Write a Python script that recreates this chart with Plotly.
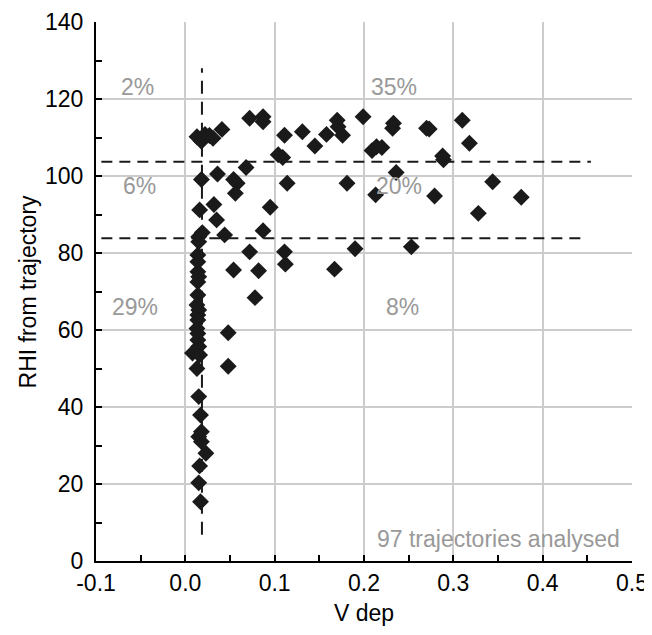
import plotly.graph_objects as go

# --- data ---
v_dep = [
    0.013, 0.018, 0.022, 0.027, 0.031,
    0.018, 0.016, 0.019, 0.015, 0.015, 0.014, 0.014, 0.014, 0.015, 0.014,
    0.014, 0.013, 0.015, 0.014, 0.014, 0.013, 0.014, 0.014, 0.015, 0.008,
    0.016, 0.013, 0.015, 0.017, 0.018, 0.015, 0.018, 0.023, 0.016, 0.015,
    0.017,
    0.041, 0.072, 0.087, 0.087, 0.068, 0.036, 0.054, 0.058, 0.056, 0.032,
    0.035, 0.044, 0.087, 0.111, 0.104, 0.109, 0.131, 0.145, 0.158, 0.170,
    0.171, 0.176, 0.199, 0.233, 0.232, 0.209, 0.214, 0.220, 0.114, 0.181,
    0.236, 0.213, 0.270, 0.273, 0.310, 0.318, 0.288, 0.289, 0.344, 0.279,
    0.376, 0.328, 0.253, 0.095, 0.072, 0.111, 0.112, 0.190, 0.082, 0.167,
    0.078, 0.054, 0.048, 0.048,
]
rhi = [
    110.2, 109.0, 110.8, 110.5, 109.8,
    99.1, 91.2, 85.3, 84.2, 82.9, 79.5, 77.7, 75.1, 73.8, 72.5,
    69.1, 66.5, 65.2, 63.9, 62.6, 60.4, 59.1, 57.4, 55.7, 54.0,
    53.5, 50.0, 42.7, 37.9, 33.6, 32.3, 31.0, 28.0, 24.7, 20.3,
    15.4,
    112.1, 115.0, 115.4, 114.1, 102.2, 100.5, 99.1, 98.1, 95.5, 92.6,
    88.6, 84.7, 85.8, 110.6, 105.5, 104.8, 111.5, 107.8, 110.8, 114.5,
    112.8, 110.6, 115.4, 113.7, 112.4, 106.6, 107.6, 107.4, 98.1, 98.1,
    100.9, 95.1, 112.4, 112.2, 114.5, 108.5, 105.2, 104.2, 98.5, 94.8,
    94.5, 90.3, 81.6, 91.9, 80.3, 80.3, 77.1, 81.1, 75.4, 75.8,
    68.4, 75.6, 59.3, 50.6,
]

# threshold (dashed) lines
v_threshold = 0.0186
v_line_rhi = [6.8, 128.0]
rhi_upper = 103.7
rhi_upper_v = [-0.094, 0.454]
rhi_lower = 83.8
rhi_lower_v = [-0.094, 0.445]

# quadrant labels
pct_labels = ["2%", "35%", "6%", "20%", "29%", "8%"]
pct_v = [-0.053, 0.234, -0.051, 0.239, -0.056, 0.243]
pct_rhi = [123.0, 123.0, 97.4, 97.4, 66.0, 66.0]
note_text = "97 trajectories analysed"

x_ticks = [-0.1, 0.0, 0.1, 0.2, 0.3, 0.4, 0.5]
x_tick_labels = ["-0.1", "0.0", "0.1", "0.2", "0.3", "0.4", "0.5"]
x_grid = [0.0, 0.1, 0.2, 0.3, 0.4]
y_ticks = [0, 20, 40, 60, 80, 100, 120, 140]
y_grid = [20, 40, 60, 80, 100, 120]
x_title = "V dep"
y_title = "RHI from trajectory"

FONT = "Liberation Sans, Arial, sans-serif"
FS = 23
DASH = "11px,7px"
INK = "#1a1a1a"

fig = go.Figure()
fig.add_trace(go.Scatter(x=[v_threshold, v_threshold], y=v_line_rhi, mode="lines",
                         line=dict(color=INK, width=2, dash="13px,8px"), hoverinfo="skip"))
fig.add_trace(go.Scatter(x=rhi_upper_v, y=[rhi_upper, rhi_upper], mode="lines",
                         line=dict(color=INK, width=2, dash=DASH), hoverinfo="skip"))
fig.add_trace(go.Scatter(x=rhi_lower_v, y=[rhi_lower, rhi_lower], mode="lines",
                         line=dict(color=INK, width=2, dash=DASH), hoverinfo="skip"))
fig.add_trace(go.Scatter(x=v_dep, y=rhi, mode="markers",
                         marker=dict(symbol="diamond", size=13, color=INK, line=dict(width=0))))
# invisible trace to carry the tick/label axes
fig.add_trace(go.Scatter(x=[None], y=[None], xaxis="x2", yaxis="y2", mode="markers",
                         hoverinfo="skip"))

for t, xv, yv in zip(pct_labels, pct_v, pct_rhi):
    fig.add_annotation(x=xv, y=yv, text=t, showarrow=False,
                       font=dict(family=FONT, size=FS, color="#999999"))
fig.add_annotation(x=0.489, y=5.6, text=note_text, showarrow=False, xanchor="right",
                   font=dict(family=FONT, size=FS, color="#999999"))

# axis titles
fig.add_annotation(xref="paper", yref="paper", x=0.5, y=-0.097, yanchor="middle",
                   text=x_title, showarrow=False, font=dict(family=FONT, size=FS, color="black"))
fig.add_annotation(xref="paper", yref="paper", x=-0.127, y=0.5, xanchor="center",
                   text=y_title, textangle=-90, showarrow=False,
                   font=dict(family=FONT, size=FS, color="black"))

common_tick = dict(ticks="inside", ticklen=6, tickwidth=1.5, tickcolor="black",
                   tickfont=dict(family=FONT, size=FS, color="black"),
                   ticklabeloverflow="allow")

# page body has an 8px margin; size the figure so the plot area lands where the reference's does
fig.update_layout(
    width=644, height=619,
    margin=dict(l=88, r=20, t=14, b=66),
    paper_bgcolor="white", plot_bgcolor="white",
    showlegend=False,
    font=dict(family=FONT, size=FS, color="black"),
    xaxis=dict(range=[-0.1, 0.5], tickvals=x_grid, showticklabels=False, ticks="",
               showgrid=True, gridcolor="#cccccc", gridwidth=2, zeroline=False,
               showline=False, automargin=False),
    yaxis=dict(range=[0, 140], tickvals=y_grid, showticklabels=False, ticks="",
               showgrid=True, gridcolor="#cccccc", gridwidth=2, zeroline=False,
               showline=False, automargin=False),
    xaxis2=dict(range=[-0.1, 0.5], overlaying="x", anchor="y2", side="bottom",
                tickvals=x_ticks, ticktext=x_tick_labels, showgrid=False, zeroline=False,
                showline=True, linecolor="black", linewidth=2, automargin=False,
                minor=dict(dtick=0.05, ticks="inside", ticklen=6, tickwidth=1.5,
                           tickcolor="black", showgrid=False),
                ticklabelstandoff=0, **common_tick),
    yaxis2=dict(range=[0, 140], overlaying="y", anchor="x2", side="left",
                tickvals=y_ticks, showgrid=False, zeroline=False,
                showline=True, linecolor="black", linewidth=2, automargin=False,
                minor=dict(dtick=10, ticks="inside", ticklen=6, tickwidth=1.5,
                           tickcolor="black", showgrid=False),
                ticklabelstandoff=6, **common_tick),
)

fig.write_html("out.html")
